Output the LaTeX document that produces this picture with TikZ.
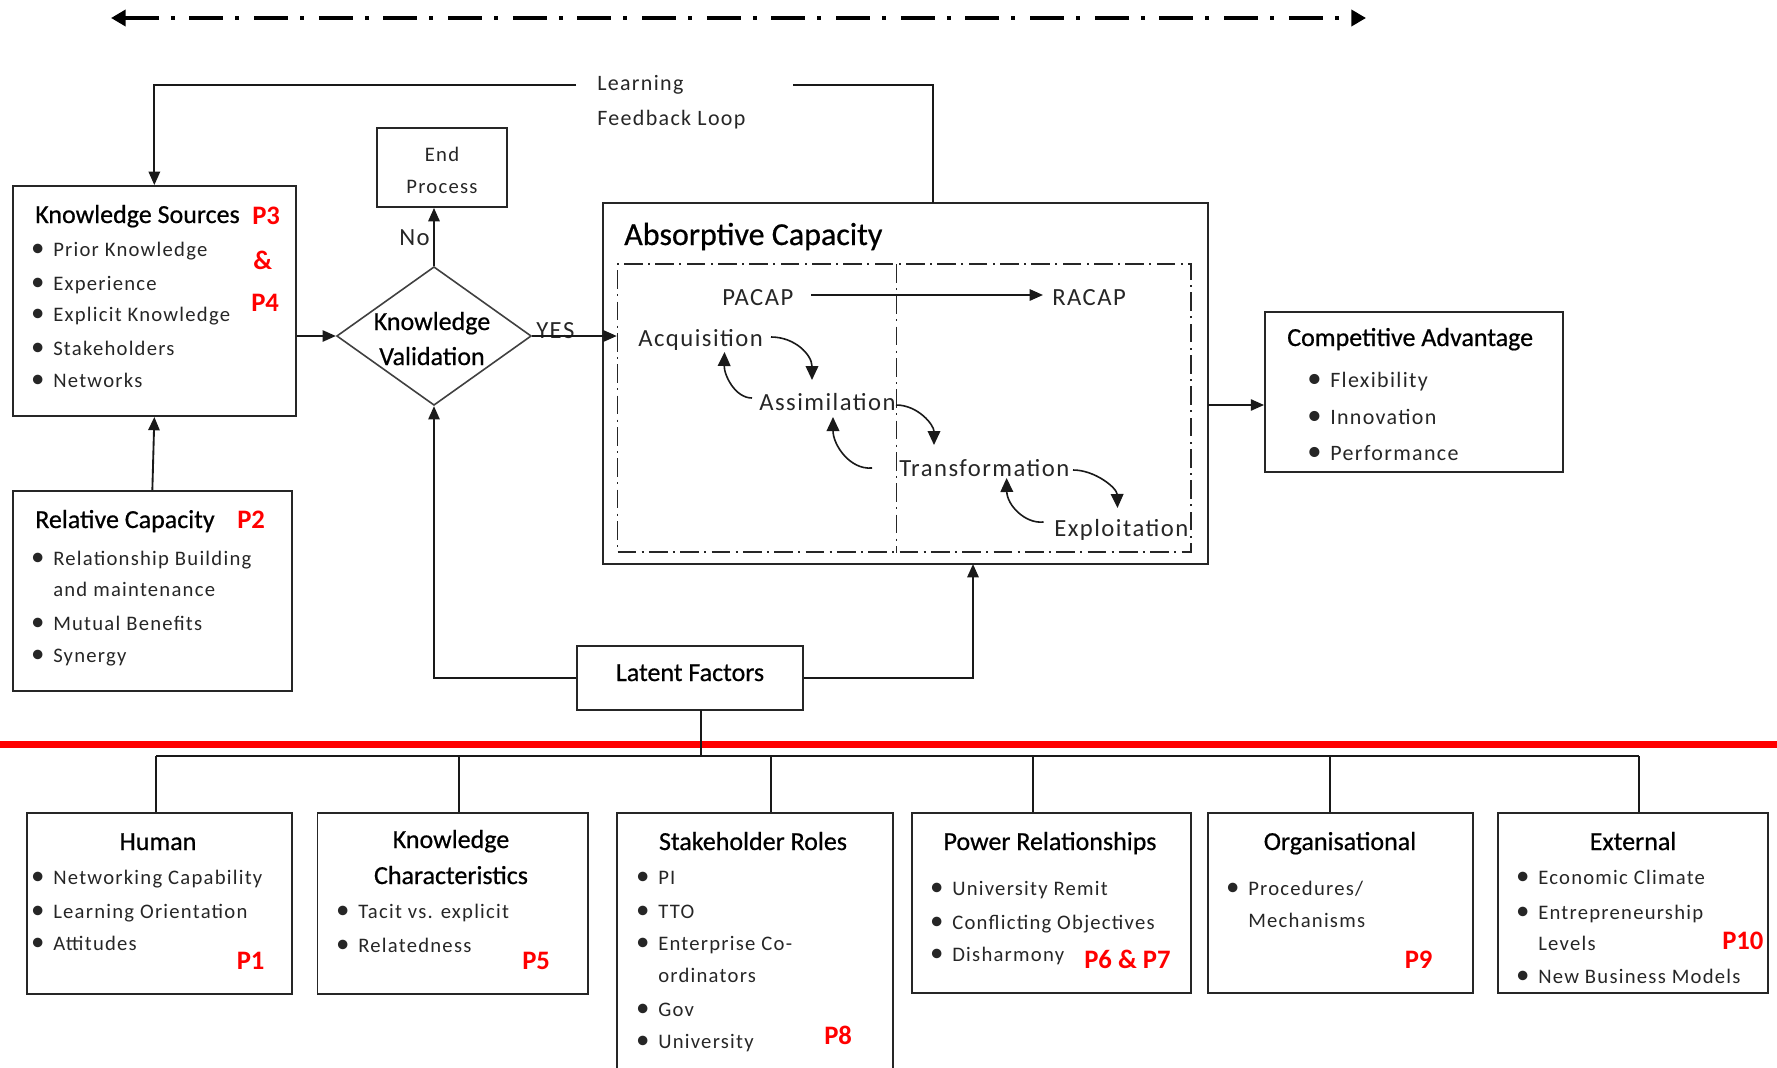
\documentclass[tikz,border=0pt]{standalone}
\usepackage{fontspec}
\setmainfont{Carlito}
\newfontfamily\lsfont[LetterSpace=6]{Carlito}
\newfontfamily\hvfont[FakeBold=0.6]{Carlito}
\usetikzlibrary{arrows.meta,fit,shapes.geometric}
\newcommand\fT{\hvfont\fontsize{19.5}{23}\selectfont}
\newcommand\fB{\lsfont\fontsize{15.5}{19}\selectfont}
\newcommand\fC{\lsfont\fontsize{16.5}{20}\selectfont}
\newcommand\fL{\lsfont\fontsize{16.5}{20}\selectfont}
\newcommand\fA{\lsfont\fontsize{18.5}{22}\selectfont}
\newcommand\fH{\hvfont\fontsize{24}{28}\selectfont}
\newcommand\fP{\bfseries\fontsize{20}{24}\selectfont}
\newcommand\bu{\llap{\raisebox{-0.6pt}{\scalebox{1.3}{\textbullet}}\hspace{6.5pt}}}
\begin{document}
\begin{tikzpicture}[x=0.75pt,y=-0.75pt,
 box/.style={draw=black!85, line width=1.4pt, inner sep=0pt},
 conn/.style={draw=black!90, line width=1.4pt},
 arr/.style={conn, -{Triangle[length=10pt,width=8.5pt]}},
 cur/.style={draw=black!90, line width=1.2pt, -{Triangle[length=10.5pt,width=9.5pt]}},
 ttl/.style={inner sep=0pt, anchor=base west, font=\fT, text=black},
 ttc/.style={ttl, anchor=base},
 itm/.style={inner sep=0pt, anchor=base west, font=\fB, text=black!85},
 itc/.style={itm, anchor=base},
 itb/.style={itm, font=\fC},
 ait/.style={inner sep=0pt, anchor=base west, font=\fA, text=black!85},
 pl/.style={inner sep=0pt, anchor=base west, font=\fP, text=red},
 dd/.style={draw=black!85, line width=1.1pt, dash pattern=on 14pt off 4pt on 1.5pt off 4pt}
]
\useasboundingbox (0,0) rectangle (1777,1067);
\clip (0,0) rectangle (1777,1067);

% top dash-dot double arrow
\draw[line width=3pt, dash pattern=on 25.5pt off 9pt on 3pt off 11pt,
  {Triangle[length=11pt,width=12pt]}-{Triangle[length=11pt,width=12pt]}] (111,18) -- (1366,18);

% Knowledge Sources
\node[box, fit={(12.7,186) (296,416)}] (ks) {};
\node[ttl] (kst) at (35,223) {Knowledge Sources};
\node[pl] (ksp3) at (252,224) {P3};
\node[pl] (ksamp) at (253,269) {\&};
\node[pl] (ksp4) at (251,311) {P4};
\node[itm] (ks1) at (53,256) {\bu Prior Knowledge};
\node[itm] (ks2) at (53,290) {\bu Experience};
\node[itm] (ks3) at (53,321) {\bu Explicit Knowledge};
\node[itm] (ks4) at (53,355) {\bu Stakeholders};
\node[itm] (ks5) at (53,387) {\bu Networks};

% Relative Capacity
\node[box, fit={(12.7,491) (292,691)}] (rc) {};
\node[ttl] (rct) at (35,528) {Relative Capacity};
\node[pl] (rcp) at (237,528) {P2};
\node[itm] (rc1) at (53,565) {\bu Relationship Building};
\node[itm] (rc2) at (53,596) {and maintenance};
\node[itm] (rc3) at (53,630) {\bu Mutual Benefits};
\node[itm] (rc4) at (53,662) {\bu Synergy};

% End Process
\node[box, fit={(377,128) (507,207)}] (ep) {};
\node[itc] (ep1) at (442,161) {End};
\node[itc] (ep2) at (442,193) {Process};

% Knowledge Validation
\node[draw=black!75, line width=1.2pt, shape=diamond, minimum width=146pt, minimum height=104pt, inner sep=0pt] (kv) at (434,336) {};
\node[ttc] (kv1) at (432,330) {Knowledge};
\node[ttc] (kv2) at (432,365) {Validation};
\node[ait] (no) at (399,245) {No};
\node[ait] (yes) at (536,338) {YES};

% Absorptive Capacity
\node[box, fit={(603,203) (1208,564)}] (ac) {};
\node[inner sep=0pt, anchor=base west, font=\fH] (act) at (624,245) {Absorptive Capacity};
\node[dd, fit={(617.5,264) (1191,552)}, inner sep=0pt] (acin) {};
\coordinate (dv) at (896.5,264);
\draw[dd, line width=1.3pt] (dv) -- (dv |- acin.south);
\node[ait] (pacap) at (722,305) {PACAP};
\node[ait] (racap) at (1052,305) {RACAP};
\node[ait] (acq) at (638,346) {Acquisition};
\node[ait] (asm) at (759,410) {Assimilation};
\node[ait] (trf) at (899,476) {Transformation};
\node[ait] (exl) at (1054,536) {Exploitation};
\coordinate (pa1) at (811,295);
\coordinate (pa2) at (1043,295);
\draw[arr] (pa1) -- (pa2);
\coordinate (c1a) at (771,337); \coordinate (c1b) at (812,380);
\coordinate (c2a) at (752,398); \coordinate (c2b) at (724.5,352);
\coordinate (c3a) at (896,405); \coordinate (c3b) at (934,445);
\coordinate (c4a) at (872,468); \coordinate (c4b) at (833,417);
\coordinate (c5a) at (1073,470); \coordinate (c5b) at (1117.5,508);
\coordinate (c6a) at (1043.5,522); \coordinate (c6b) at (1006.6,478);
\draw[cur] (c1a) .. controls (795,337) and (812,355) .. (c1b);
\draw[cur] (c2a) .. controls (735,398) and (724,375) .. (c2b);
\draw[cur] (c3a) .. controls (918,405) and (934,425) .. (c3b);
\draw[cur] (c4a) .. controls (850,470) and (833,445) .. (c4b);
\draw[cur] (c5a) .. controls (1095,470) and (1117,488) .. (c5b);
\draw[cur] (c6a) .. controls (1025,524) and (1007,505) .. (c6b);

% Competitive Advantage
\node[box, fit={(1265,312) (1563,472)}] (ca) {};
\node[ttl] (cat) at (1287,346) {Competitive Advantage};
\node[itb] (ca1) at (1330,387) {\bu Flexibility};
\node[itb] (ca2) at (1330,424) {\bu Innovation};
\node[itb] (ca3) at (1330,460) {\bu Performance};

% Learning feedback loop
\node[inner sep=0pt, anchor=base west, font=\fL, text=black!85] (lp1) at (597,90) {Learning};
\node[inner sep=0pt, anchor=base west, font=\fL, text=black!85] (lp2) at (597,125) {Feedback Loop};
\coordinate (lfl) at (576,85);
\coordinate (lfr) at (793,85);
\coordinate (acT) at (933,203);
\draw[arr] (lfl) -| (ks.north);
\draw[conn] (lfr) -| (acT);

% main connectors
\draw[arr] (rc.north) -- (ks.south);
\draw[arr] (kv.west -| ks.east) -- (kv.west);
\draw[arr] (kv.north) -- (kv.north |- ep.south);
\draw[arr] (kv.east) -- (kv.east -| acin.west);
\coordinate (caA) at (1208,405);
\draw[arr] (caA) -- (caA -| ca.west);

% Latent Factors
\node[box, fit={(577,646) (803,710)}] (lf) {};
\node[ttc] (lft) at (690,681) {Latent Factors};
\coordinate (acB) at (973,564);
\draw[arr] (lf.west) -| (kv.south);
\draw[arr] (lf.east) -| (acB);

% red line
\draw[draw=red, line width=5.25pt] (0,744) -- (1777,744);

% bus
\coordinate (lfd) at (701,710);
\coordinate (busL) at (156,756);
\coordinate (busR) at (1639,756);
\draw[conn] (lfd) -- (lfd |- busL);
\draw[conn] (busL) -- (busR);

% bottom boxes
\node[box, fit={(27,813) (292,994)}] (hu) {};
\node[ttc] (hut) at (158,850) {Human};
\node[itm] (hu1) at (53,884) {\bu Networking Capability};
\node[itm] (hu2) at (53,918) {\bu Learning Orientation};
\node[itm] (hu3) at (53,950) {\bu Attitudes};
\node[pl] (hup) at (236.5,969) {P1};

\node[box, fit={(317.5,813) (588,994)}] (kc) {};
\node[ttc] (kct1) at (451,848) {Knowledge};
\node[ttc] (kct2) at (451,884) {Characteristics};
\node[itm] (kc1) at (358,918) {\bu Tacit vs. explicit};
\node[itm] (kc2) at (358,952) {\bu Relatedness};
\node[pl] (kcp) at (522,969) {P5};

\node[box, fit={(617,813) (893,1085)}] (sr) {};
\node[ttc] (srt) at (753,850) {Stakeholder Roles};
\node[itm] (sr1) at (658,884) {\bu PI};
\node[itm] (sr2) at (658,918) {\bu TTO};
\node[itm] (sr3) at (658,950) {\bu Enterprise Co-};
\node[itm] (sr4) at (658,982) {ordinators};
\node[itm] (sr5) at (658,1016) {\bu Gov};
\node[itm] (sr6) at (658,1048) {\bu University};
\node[pl] (srp) at (824,1044) {P8};

\node[box, fit={(912,813) (1191,993)}] (pr) {};
\node[ttc] (prt) at (1050,850) {Power Relationships};
\node[itm] (pr1) at (952,895) {\bu University Remit};
\node[itm] (pr2) at (952,929) {\bu Conflicting Objectives};
\node[itm] (pr3) at (952,961) {\bu Disharmony};
\node[pl] (prp) at (1084,968) {P6 \& P7};

\node[box, fit={(1208,813) (1473,993)}] (og) {};
\node[ttc] (ogt) at (1340,850) {Organisational};
\node[itm] (og1) at (1248,895) {\bu Procedures/};
\node[itm] (og2) at (1248,927) {Mechanisms};
\node[pl] (ogp) at (1404.5,968) {P9};

\node[box, fit={(1498,813) (1768,993)}] (ex) {};
\node[ttc] (ext) at (1633,850) {External};
\node[itm] (ex1) at (1538,884) {\bu Economic Climate};
\node[itm] (ex2) at (1538,919) {\bu Entrepreneurship};
\node[itm] (ex3) at (1538,950) {Levels};
\node[itm] (ex4) at (1538,983) {\bu New Business Models};
\node[pl] (exp) at (1722,949) {P10};

\coordinate (t1) at (156,756);
\coordinate (t2) at (459,756);
\coordinate (t3) at (771,756);
\coordinate (t4) at (1033,756);
\coordinate (t5) at (1330,756);
\coordinate (t6) at (1639,756);
\draw[conn] (t1) -- (t1 |- hu.north);
\draw[conn] (t2) -- (t2 |- kc.north);
\draw[conn] (t3) -- (t3 |- sr.north);
\draw[conn] (t4) -- (t4 |- pr.north);
\draw[conn] (t5) -- (t5 |- og.north);
\draw[conn] (t6) -- (t6 |- ex.north);
\end{tikzpicture}
\end{document}
